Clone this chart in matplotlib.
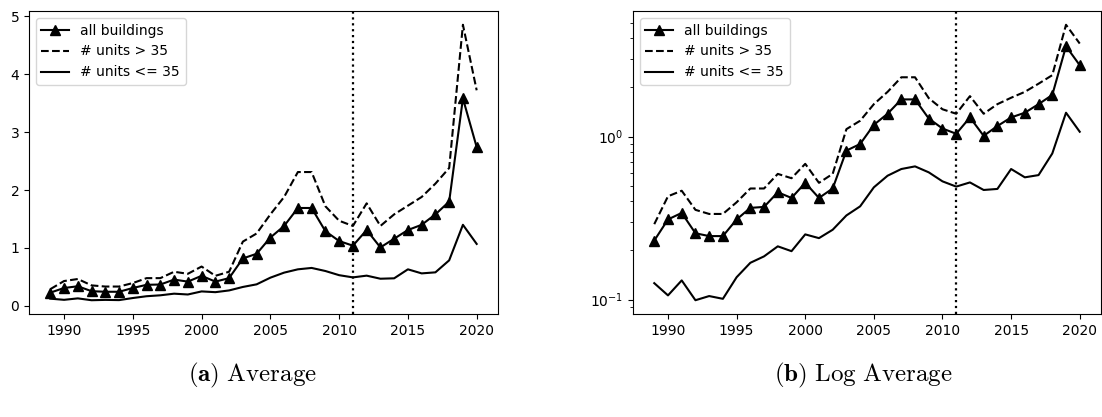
import numpy as np
import matplotlib.pyplot as plt

plt.rcParams['mathtext.fontset'] = 'cm'

years = np.arange(1989, 2021)

# average per year, all buildings
all_bldg = [0.23, 0.31, 0.34, 0.255, 0.245, 0.245, 0.31, 0.365, 0.37, 0.455, 0.42, 0.52,
            0.42, 0.48, 0.82, 0.90, 1.18, 1.38, 1.69, 1.69, 1.29, 1.12, 1.04, 1.31,
            1.01, 1.16, 1.31, 1.40, 1.58, 1.80, 3.58, 2.74]
# buildings with more than 35 units
big = [0.29, 0.43, 0.465, 0.355, 0.335, 0.335, 0.395, 0.48, 0.48, 0.59, 0.555, 0.68,
       0.52, 0.59, 1.11, 1.25, 1.58, 1.88, 2.31, 2.31, 1.72, 1.47, 1.38, 1.77,
       1.38, 1.58, 1.73, 1.88, 2.11, 2.38, 4.85, 3.72]
# buildings with 35 units or less
small = [0.126, 0.106, 0.131, 0.099, 0.105, 0.101, 0.137, 0.168, 0.184, 0.212, 0.198, 0.251,
         0.238, 0.268, 0.328, 0.373, 0.488, 0.575, 0.632, 0.656, 0.603, 0.531, 0.493, 0.523,
         0.47, 0.477, 0.632, 0.562, 0.58, 0.787, 1.40, 1.07]

cutoff = 2011

fig = plt.figure(figsize=(11.02, 4.17), dpi=100)
ax1 = fig.add_axes([0.0263, 0.247, 0.4256, 0.7266])
ax2 = fig.add_axes([0.5744, 0.247, 0.4247, 0.7266])

for ax in (ax1, ax2):
    ax.plot(years, all_bldg, 'k-^', lw=1.5, ms=7, label='all buildings')
    ax.plot(years, big, 'k--', lw=1.5, label='# units > 35')
    ax.plot(years, small, 'k-', lw=1.5, label='# units <= 35')
    ax.axvline(cutoff, color='k', ls=':', lw=1.6)
    ax.legend(loc='upper left')

ax1.set_xticks([1990, 1995, 2000, 2005, 2010, 2015, 2020])
ax2.set_xticks([1990, 1995, 2000, 2005, 2010, 2015, 2020])
ax2.set_yscale('log')

fig.text(0.229, 0.10, r'$\mathbf{(a)}\ \mathrm{Average}$', ha='center', va='center', fontsize=18)
fig.text(0.783, 0.10, r'$\mathbf{(b)}\ \mathrm{Log\ Average}$', ha='center', va='center', fontsize=18)

plt.savefig('out.png', dpi=100)
